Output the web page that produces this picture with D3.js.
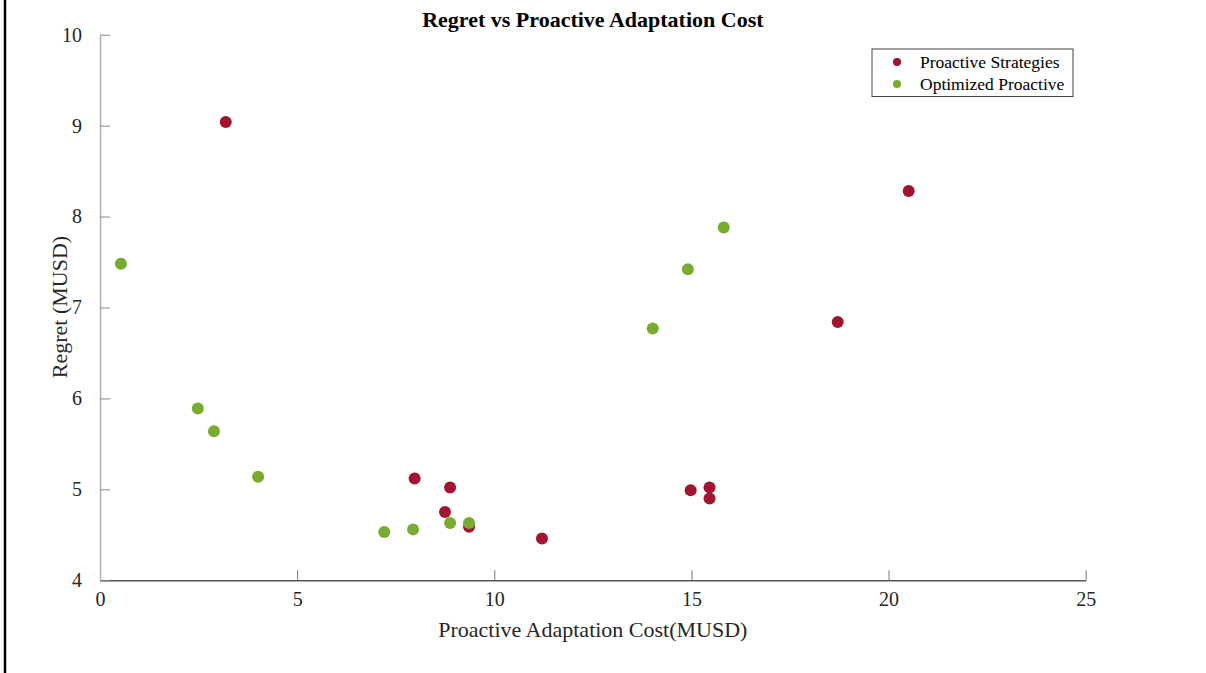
<!DOCTYPE html>
<html>
<head>
<meta charset="utf-8">
<script src="https://cdn.jsdelivr.net/npm/d3@7"></script>
<style>
  body { margin: 0; background: #fff; }
  svg { display: block; font-family: "Liberation Serif", "Times New Roman", serif; }
</style>
</head>
<body>
<svg width="1206" height="673"></svg>
<script>
var width = 1206;
var height = 673;
var margin = {left: 100, top: 34.7, right: 120.3, bottom: 92.7};

// data
var proactiveCost   = [3.19, 20.51, 18.71, 7.98, 8.88, 8.75, 9.36, 11.21, 14.98, 15.46, 15.46];
var proactiveRegret = [9.04, 8.28, 6.84, 5.12, 5.02, 4.75, 4.59, 4.46, 4.99, 5.02, 4.90];

var optimizedCost   = [0.53, 2.48, 2.89, 4.01, 7.21, 7.94, 8.88, 9.36, 14.02, 14.91, 15.82];
var optimizedRegret = [7.48, 5.89, 5.64, 5.14, 4.53, 4.56, 4.63, 4.63, 6.77, 7.42, 7.88];

var xTicks = [0, 5, 10, 15, 20, 25];
var yTicks = [4, 5, 6, 7, 8, 9, 10];

var series = [
  {name: "Proactive Strategies", color: "#a2142f", x: proactiveCost, y: proactiveRegret},
  {name: "Optimized Proactive", color: "#77ac30", x: optimizedCost, y: optimizedRegret}
];

var xScale = d3.scaleLinear().domain([0, 25]).range([margin.left, width - margin.right]);
var yScale = d3.scaleLinear().domain([4, 10]).range([height - margin.bottom, margin.top]);

var svg = d3.select("svg");

// left frame line
svg.append("line")
  .attr("x1", 5).attr("x2", 5)
  .attr("y1", 0).attr("y2", height)
  .attr("stroke", "#000")
  .attr("stroke-width", 2.5);

// axes, ticks pointing inwards
var xAxis = svg.append("g")
  .attr("transform", "translate(0," + (height - margin.bottom) + ")")
  .call(d3.axisBottom(xScale).tickValues(xTicks).tickFormat(d3.format("d"))
    .tickSizeInner(-10).tickSizeOuter(0).tickPadding(12));
xAxis.select(".domain").attr("stroke", "#555").attr("stroke-width", 1.5);
xAxis.selectAll(".tick line").attr("stroke", "#777");
xAxis.selectAll(".tick text")
  .attr("fill", "#262626")
  .style("font-size", "20px")
  .style("font-family", "Liberation Serif");

var yAxis = svg.append("g")
  .attr("transform", "translate(" + margin.left + ",0)")
  .call(d3.axisLeft(yScale).tickValues(yTicks).tickFormat(d3.format("d"))
    .tickSizeInner(-10).tickSizeOuter(0).tickPadding(18));
yAxis.select(".domain").attr("stroke", "#b0b0b0").attr("stroke-width", 1.5);
yAxis.selectAll(".tick line").attr("stroke", "#888");
yAxis.selectAll(".tick text")
  .attr("fill", "#262626")
  .style("font-size", "20px")
  .style("font-family", "Liberation Serif");

// points
series.forEach(function (s) {
  svg.append("g").selectAll("circle")
    .data(s.x.map(function (v, i) { return {x: v, y: s.y[i]}; }))
    .enter()
    .append("circle")
    .attr("cx", function (d) { return xScale(d.x); })
    .attr("cy", function (d) { return yScale(d.y); })
    .attr("r", 6)
    .attr("fill", s.color);
});

// title
svg.append("text")
  .attr("x", (margin.left + width - margin.right) / 2)
  .attr("y", 27)
  .attr("text-anchor", "middle")
  .style("font-size", "22px")
  .style("font-weight", "bold")
  .attr("fill", "#000")
  .text("Regret vs Proactive Adaptation Cost");

// axis labels
svg.append("text")
  .attr("x", (margin.left + width - margin.right) / 2)
  .attr("y", 637)
  .attr("text-anchor", "middle")
  .style("font-size", "22px")
  .attr("fill", "#262626")
  .text("Proactive Adaptation Cost(MUSD)");

svg.append("text")
  .attr("transform", "rotate(-90)")
  .attr("x", -307)
  .attr("y", 67)
  .attr("text-anchor", "middle")
  .style("font-size", "22px")
  .attr("fill", "#262626")
  .text("Regret (MUSD)");

// legend
var legend = svg.append("g").attr("transform", "translate(872,49)");
legend.append("rect")
  .attr("width", 201)
  .attr("height", 47.5)
  .attr("fill", "#fff")
  .attr("stroke", "#444")
  .attr("stroke-width", 1);

legend.selectAll(".entry")
  .data(series)
  .enter()
  .append("g")
  .attr("class", "entry")
  .each(function (d, i) {
    var g = d3.select(this);
    g.append("circle")
      .attr("cx", 25)
      .attr("cy", 13 + i * 22)
      .attr("r", 4)
      .attr("fill", d.color);
    g.append("text")
      .attr("x", 48)
      .attr("y", 13 + i * 22)
      .attr("dy", "0.35em")
      .style("font-size", "17.5px")
      .attr("fill", "#000")
      .text(d.name);
  });
</script>
</body>
</html>
